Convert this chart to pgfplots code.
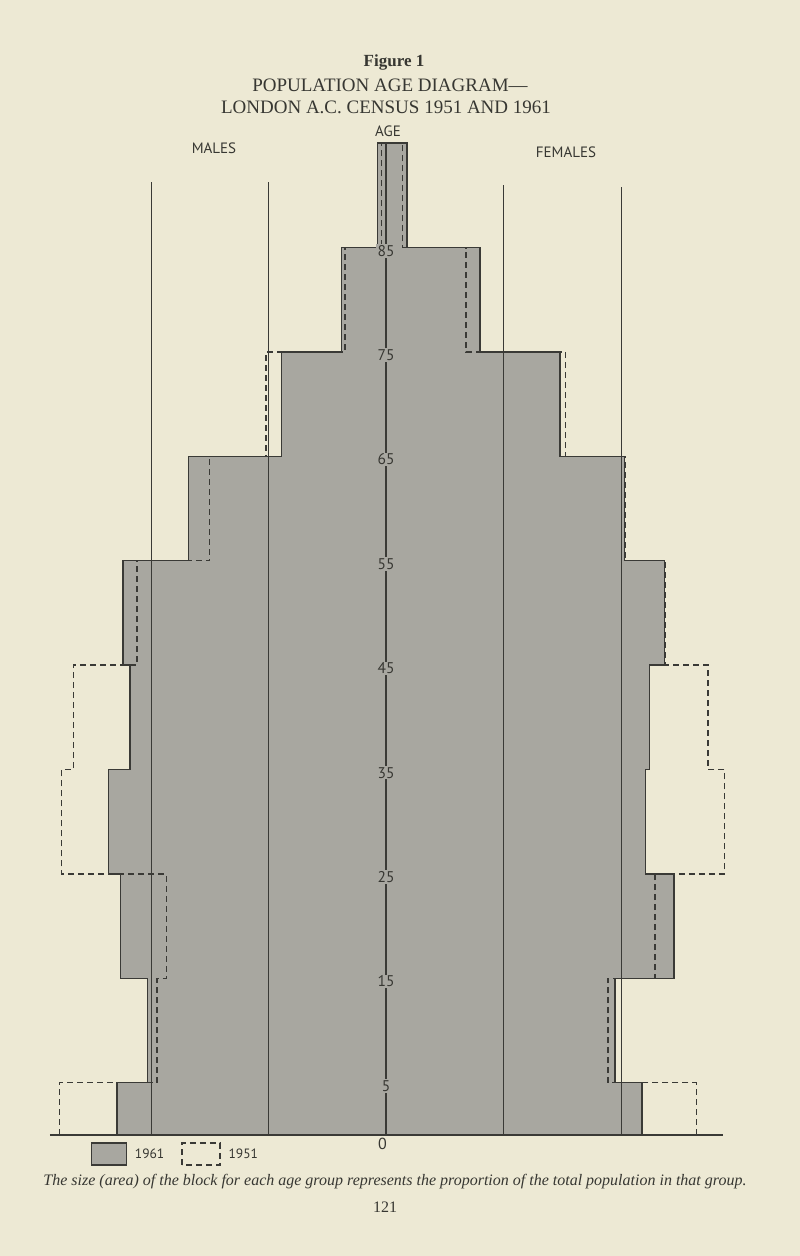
\documentclass[border=0pt]{standalone}
\usepackage{fontspec}
\usepackage{pgfplots}
\pgfplotsset{compat=1.18}
\setmainfont{Liberation Serif}
\newfontfamily\labfont{PT Sans}
\definecolor{paper}{RGB}{237,233,212}
\definecolor{barfill}{RGB}{168,167,160}
\definecolor{ink}{RGB}{58,58,54}
\definecolor{txt}{RGB}{55,55,50}

\begin{document}
\begin{tikzpicture}[x=1pt,y=1pt]
\fill[paper] (0,0) rectangle (800,1256);
\begin{axis}[
  at={(0,0)}, anchor=south west,
  scale only axis, width=800pt, height=1256pt,
  hide axis, clip=false,
  xmin=-3.2851, xmax=3.5234, ymin=-11.590, ymax=108.716,
  legend columns=2,
  legend style={at={(axis cs:-2.513,-1.82)}, anchor=west, draw=none, fill=none,
    font=\labfont\fontsize{13.5}{13.5}\selectfont, text=txt,
    inner sep=0pt, outer sep=0pt,
    /tikz/every even column/.append style={column sep=15pt},
    /tikz/every odd column/.append style={column sep=6pt}},
]
% 1961 (filled)
\addplot[fill=barfill, draw=ink, line width=1.4pt, line join=miter,
  legend image code/.code={\draw[fill=barfill, draw=ink, line width=1.2pt] (0pt,-11pt) rectangle (35pt,11pt);}]
coordinates {
(-2.29,0) (-2.29,5) (-2.03,5) (-2.03,15) (-2.26,15) (-2.26,25) (-2.36,25) (-2.36,35)
(-2.18,35) (-2.18,45) (-2.24,45) (-2.24,55) (-1.68,55) (-1.68,65) (-0.89,65) (-0.89,75)
(-0.38,75) (-0.38,85) (-0.07,85) (-0.07,95)
(0.18,95) (0.18,85) (0.80,85) (0.80,75) (1.48,75) (1.48,65) (2.03,65) (2.03,55)
(2.37,55) (2.37,45) (2.24,45) (2.24,35) (2.21,35) (2.21,25) (2.45,25) (2.45,15)
(1.95,15) (1.95,5) (2.18,5) (2.18,0)} -- cycle;
\addlegendentry{1961}
% 1951 males (dashed)
\addplot[draw=ink, line width=1.4pt, dash pattern=on 6pt off 4pt,
  legend image code/.code={\draw[draw=ink, line width=1.2pt, dash pattern=on 6pt off 4pt] (0pt,-11pt) rectangle (38pt,11pt);}]
coordinates {
(-2.78,0) (-2.78,5) (-1.95,5) (-1.95,15) (-1.87,15) (-1.87,25) (-2.76,25) (-2.76,35)
(-2.66,35) (-2.66,45) (-2.12,45) (-2.12,55) (-1.50,55) (-1.50,65) (-1.02,65) (-1.02,75)
(-0.35,75) (-0.35,85) (-0.04,85) (-0.04,95)};
\addlegendentry{1951}
% 1951 females (dashed)
\addplot[forget plot, draw=ink, line width=1.4pt, dash pattern=on 6pt off 4pt]
coordinates {
(2.64,0) (2.64,5) (1.89,5) (1.89,15) (2.29,15) (2.29,25) (2.88,25) (2.88,35)
(2.74,35) (2.74,45) (2.38,45) (2.38,55) (2.04,55) (2.04,65) (1.53,65) (1.53,75)
(0.68,75) (0.68,85) (0.14,85) (0.14,95)};
% scale lines
\addplot[forget plot, ink, line width=1pt] coordinates {(-2,0) (-2,91.3)};
\addplot[forget plot, ink, line width=1pt] coordinates {(-1,0) (-1,91.3)};
\addplot[forget plot, ink, line width=1pt] coordinates {(1,0) (1,91.0)};
\addplot[forget plot, ink, line width=1pt] coordinates {(2,0) (2,90.8)};
% age axis
\addplot[forget plot, ink, line width=1.2pt] coordinates {(0,0) (0,95)};
% base line
\addplot[forget plot, ink, line width=1.6pt] coordinates {(-2.86,0) (2.87,0)};
% age labels
\foreach \a in {5,15,25,35,45,55,65,75,85} {
  \edef\tmp{\noexpand\node[fill=barfill, inner sep=1.2pt, text=txt,
    font=\noexpand\labfont\noexpand\fontsize{15.5}{15.5}\noexpand\selectfont]
    at (axis cs:0,\a-0.3) {\a};}
  \tmp
}
\node[text=txt, font=\labfont\fontsize{16}{16}\selectfont] at (axis cs:-0.03,-0.85) {0};
\end{axis}
\begin{scope}[yshift=1256pt]
\node[text=txt, font=\bfseries\fontsize{17}{17}\selectfont] at (394,-62) {Figure 1};
\node[text=txt, font=\fontsize{19}{19}\selectfont] at (390,-85) {POPULATION AGE DIAGRAM—};
\node[text=txt, font=\fontsize{19}{19}\selectfont] at (386,-107) {LONDON A.C. CENSUS 1951 AND 1961};
\node[text=txt, font=\labfont\fontsize{15}{15}\selectfont] at (388,-131) {AGE};
\node[text=txt, font=\labfont\fontsize{15}{15}\selectfont] at (214,-148) {MALES};
\node[text=txt, font=\labfont\fontsize{15}{15}\selectfont] at (566,-152) {FEMALES};
\node[text=txt, font=\itshape\fontsize{16}{16}\selectfont] at (395,-1182) {The size (area) of the block for each age group represents the proportion of the total population in that group.};
\node[text=txt, font=\fontsize{16}{16}\selectfont] at (385,-1207) {121};
\end{scope}
\end{tikzpicture}
\end{document}
